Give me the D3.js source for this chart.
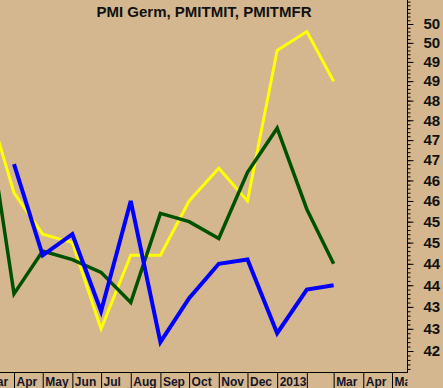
<!DOCTYPE html>
<html>
<head>
<meta charset="utf-8">
<script src="https://cdn.jsdelivr.net/npm/d3@7"></script>
<style>
  html, body { margin: 0; padding: 0; background: #D4B78E; }
  svg { display: block; font-family: "Liberation Sans", Arial, sans-serif; }
</style>
</head>
<body>
<svg id="canvas"></svg>
<script>
// monthly readings, plotted on the 1st of each month
const dates = ['2012-03-01', '2012-04-01', '2012-05-01', '2012-06-01', '2012-07-01', '2012-08-01',
               '2012-09-01', '2012-10-01', '2012-11-01', '2012-12-01', '2013-01-01', '2013-02-01', '2013-03-01'];
const pmiGerm  = [48.7, 46.2, 45.2, 45.0, 43.0, 44.7, 44.7, 46.0, 46.8, 46.0, 49.8, 50.3, 49.0];
const pmiTmit  = [48.6, 43.8, 44.8, 44.6, 44.3, 43.6, 45.7, 45.5, 45.1, 46.7, 47.8, 45.8, 44.5];
const pmiTmfr  = [null, 46.9, 44.7, 45.2, 43.4, 46.0, 42.7, 43.7, 44.5, 44.6, 42.9, 43.9, 44.0];

const monthTicks  = ['2012-03-01', '2012-04-01', '2012-05-01', '2012-06-01', '2012-07-01', '2012-08-01', '2012-09-01',
                     '2012-10-01', '2012-11-01', '2012-12-01', '2013-01-01', '2013-02-01', '2013-03-01', '2013-04-01', '2013-05-01'];
const monthLabels = ['Mar', 'Apr', 'May', 'Jun', 'Jul', 'Aug', 'Sep', 'Oct', 'Nov', 'Dec', '2013', '', 'Mar', 'Apr', 'May'];

const majorTicks = d3.range(42.5, 50.51, 0.5);
const minorTicks = d3.range(421, 512).map(d => d / 10);

const title = 'PMI Germ, PMITMIT, PMITMFR';

const width = 443;
const height = 388;
const plotRight = 407.5;
const plotBottom = 372;

const svg = d3.select('#canvas').attr('width', width).attr('height', height);

svg.append('rect').attr('width', width).attr('height', height).attr('fill', '#D4B78E');

const parse = d3.utcParse('%Y-%m-%d');

const xScale = d3.scaleUtc()
    .domain([parse('2012-04-01'), parse('2013-05-01')])
    .range([14, 392]);

const yScale = d3.scaleLog()
    .domain([42.5, 50.5])
    .range([351, 24]);

svg.append('clipPath').attr('id', 'plot')
    .append('rect').attr('x', 0).attr('y', 0).attr('width', plotRight).attr('height', plotBottom);

svg.append('clipPath').attr('id', 'plot-band')
    .append('rect').attr('x', 0).attr('y', 0).attr('width', plotRight).attr('height', 16);

// bottom month band
const xAxis = d3.axisBottom(xScale)
    .tickValues(monthTicks.map(parse))
    .tickSize(16)
    .tickFormat((d, i) => monthLabels[i]);

const xg = svg.append('g')
    .attr('clip-path', 'url(#plot-band)')
    .attr('transform', 'translate(0,' + plotBottom + ')')
    .call(xAxis);

xg.select('.domain').remove();
xg.selectAll('.tick line').attr('stroke', '#000');
xg.selectAll('.tick text')
    .attr('x', 2)
    .attr('y', 13.5)
    .attr('dy', null)
    .attr('text-anchor', 'start')
    .attr('font-size', 12)
    .attr('font-weight', 'bold')
    .attr('font-family', '"Liberation Sans", Arial, sans-serif')
    .attr('fill', '#14142a');

svg.append('line')
    .attr('x1', 0).attr('x2', plotRight)
    .attr('y1', plotBottom + 0.5).attr('y2', plotBottom + 0.5)
    .attr('stroke', '#000');

// right value axis
const minorAxis = d3.axisRight(yScale)
    .tickValues(minorTicks)
    .tickSize(3)
    .tickFormat('');

const majorAxis = d3.axisRight(yScale)
    .tickValues(majorTicks)
    .tickSize(6)
    .tickPadding(10)
    .tickFormat(d => Math.floor(d));

const yMinor = svg.append('g')
    .attr('transform', 'translate(' + plotRight + ',0)')
    .call(minorAxis);
yMinor.select('.domain').remove();
yMinor.selectAll('.tick').filter(d => yScale(d) > plotBottom - 1).remove();

const yMajor = svg.append('g')
    .attr('transform', 'translate(' + plotRight + ',0)')
    .call(majorAxis);
yMajor.select('.domain').remove();
yMajor.selectAll('line').attr('stroke', '#000');
yMajor.selectAll('text')
    .attr('font-size', 15)
    .attr('font-weight', 'bold')
    .attr('font-family', '"Liberation Sans", Arial, sans-serif')
    .attr('fill', '#111');

svg.append('line')
    .attr('x1', plotRight).attr('x2', plotRight)
    .attr('y1', 0).attr('y2', plotBottom + 1)
    .attr('stroke', '#000');

// series
const series = [
    { values: pmiGerm, color: '#FFFF00', width: 3 },
    { values: pmiTmit, color: '#005200', width: 3.5 },
    { values: pmiTmfr, color: '#0000FF', width: 4 }
];

const line = d3.line()
    .defined(d => d[1] != null)
    .x(d => xScale(d[0]))
    .y(d => yScale(d[1]));

const lines = svg.append('g').attr('clip-path', 'url(#plot)');

series.forEach(s => {
    lines.append('path')
        .datum(dates.map((d, i) => [parse(d), s.values[i]]))
        .attr('d', line)
        .attr('fill', 'none')
        .attr('stroke', s.color)
        .attr('stroke-width', s.width)
        .attr('stroke-linejoin', 'miter');
});

svg.append('text')
    .attr('x', 204)
    .attr('y', 17)
    .attr('text-anchor', 'middle')
    .attr('font-size', 15)
    .attr('font-weight', 'bold')
    .attr('fill', '#111')
    .text(title);
</script>
</body>
</html>
